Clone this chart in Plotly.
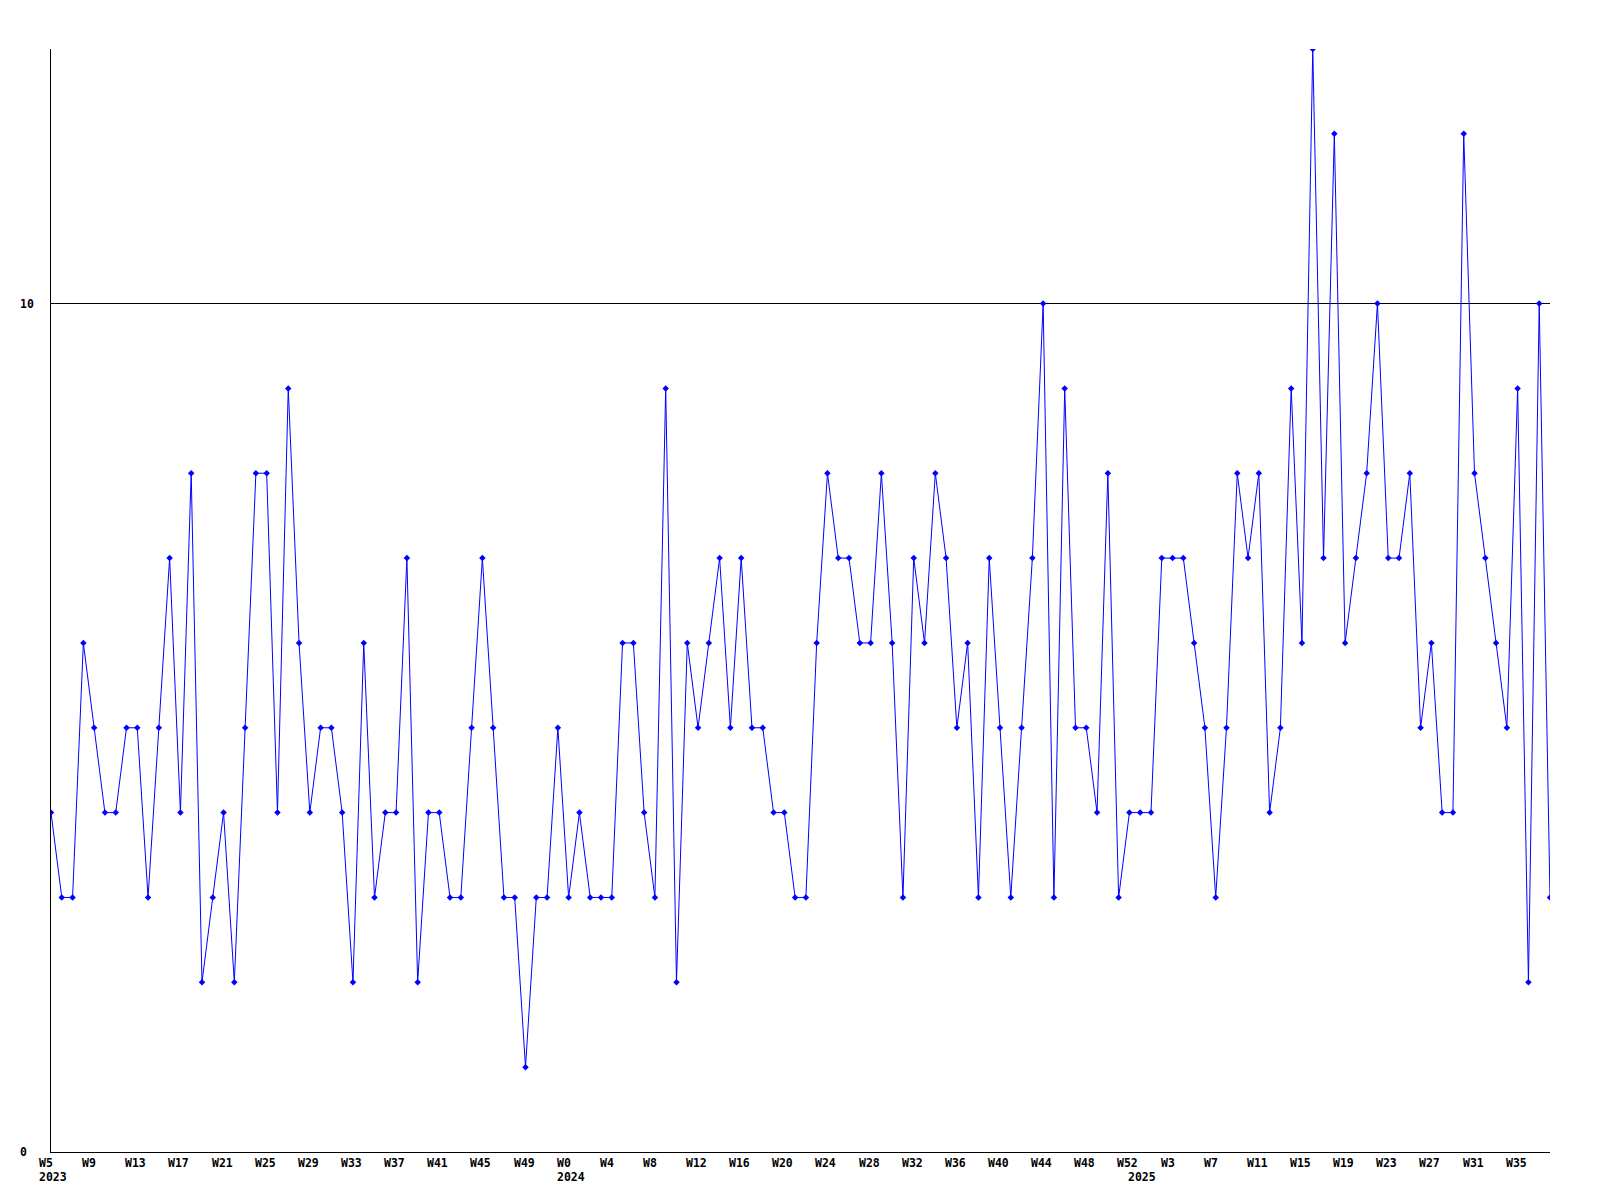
import plotly.graph_objects as go

# Weekly values, W5 2023 .. W37 2025
values = [
    4, 3, 3, 6, 5, 4, 4, 5, 5, 3, 5, 7, 4, 8, 2, 3, 4, 2, 5, 8,
    8, 4, 9, 6, 4, 5, 5, 4, 2, 6, 3, 4, 4, 7, 2, 4, 4, 3, 3, 5,
    7, 5, 3, 3, 1,
    3, 3, 5, 3, 4, 3, 3, 3, 6, 6, 4, 3, 9, 2, 6, 5, 6, 7, 5, 7,
    5, 5, 4, 4, 3, 3, 6, 8, 7, 7, 6, 6, 8, 6, 3, 7, 6, 8, 7, 5,
    6, 3, 7,
    5, 3, 5, 7, 10, 3, 9, 5, 5, 4, 8, 3, 4, 4, 4, 7, 7, 7, 6, 5,
    3, 5, 8, 7, 8, 4, 5, 9, 6, 13, 7, 12, 6, 7, 8, 10, 7, 7, 8, 5,
    6, 4, 4, 12, 8, 7, 6, 5, 9, 2, 10, 3,
]
x_index = list(range(len(values)))

tick_index = list(range(0, 137, 4))
tick_labels = (
    ["W5", "W9", "W13", "W17", "W21", "W25", "W29", "W33", "W37", "W41", "W45", "W49"]
    + ["W0", "W4", "W8", "W12", "W16", "W20", "W24", "W28", "W32", "W36", "W40", "W44", "W48", "W52"]
    + ["W3", "W7", "W11", "W15", "W19", "W23", "W27", "W31", "W35"]
)
year_index = [0, 48, 101]
year_labels = ["2023", "2024", "2025"]
y_ticks = [0, 10]
y_tick_labels = ["0", "10"]

FONT = dict(family="DejaVu Sans Mono", size=11.5, color="black")

fig = go.Figure()
fig.add_trace(go.Scatter(
    x=x_index, y=values, mode="lines+markers",
    line=dict(color="#0000ff", width=1),
    marker=dict(symbol="diamond", size=5, color="#0000ff"),
    hoverinfo="x+y", showlegend=False,
))

annotations = []
for xi, lab in zip(tick_index, tick_labels):
    annotations.append(dict(x=xi, y=0, xref="x", yref="paper", text="<b>%s</b>" % lab,
                            showarrow=False, xanchor="left", yanchor="middle",
                            xshift=-14, yshift=-11, font=FONT))
for xi, lab in zip(year_index, year_labels):
    annotations.append(dict(x=xi, y=0, xref="x", yref="paper", text="<b>%s</b>" % lab,
                            showarrow=False, xanchor="left", yanchor="middle",
                            xshift=-14, yshift=-25, font=FONT))
for yv, lab in zip(y_ticks, y_tick_labels):
    annotations.append(dict(x=0, y=yv, xref="paper", yref="y", text="<b>%s</b>" % lab,
                            showarrow=False, xanchor="left", yanchor="middle",
                            xshift=-33, font=FONT))

fig.update_layout(
    width=1592, height=1192,
    margin=dict(l=43, r=50, t=41, b=48),
    paper_bgcolor="white", plot_bgcolor="white",
    annotations=annotations,
    xaxis=dict(range=[0, len(values) - 1], showgrid=False, zeroline=False,
               showline=True, linecolor="black", linewidth=1,
               showticklabels=False, ticks=""),
    yaxis=dict(range=[0, 13], tickvals=[10], showgrid=True, gridcolor="black",
               gridwidth=1, zeroline=False, showline=True, linecolor="black",
               linewidth=1, showticklabels=False, ticks=""),
)

fig.write_html("out.html")
